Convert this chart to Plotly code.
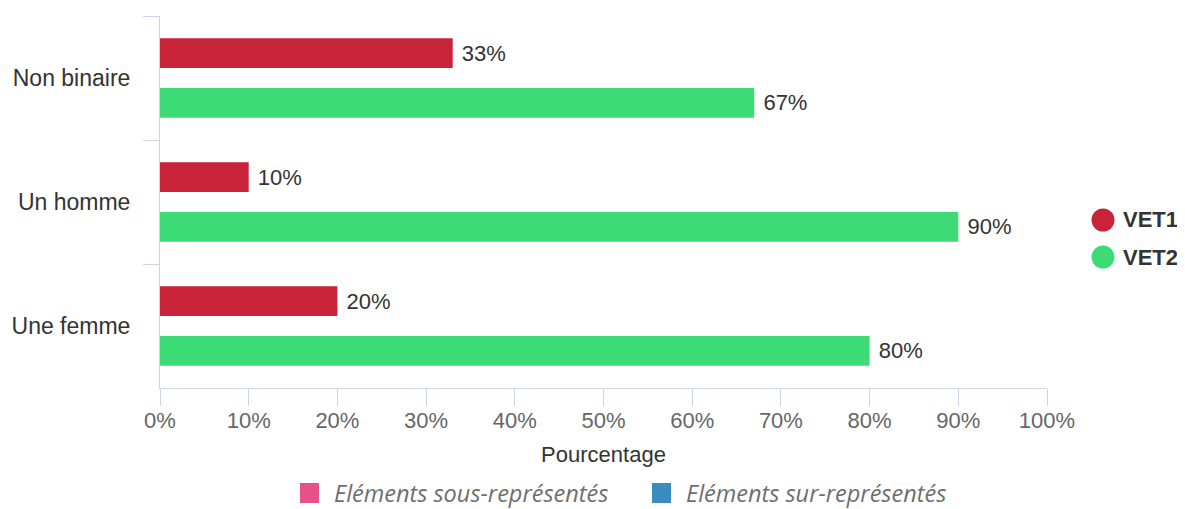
"""Horizontal grouped bars: VET1 vs VET2 by gender."""

import plotly.graph_objects as go

categories = ["Non binaire", "Un homme", "Une femme"]
vet1_values = [33, 10, 20]
vet2_values = [67, 90, 80]
series_names = ["VET1", "VET2"]
series_colors = ["#C9233A", "#3DDB76"]
x_ticks = list(range(0, 101, 10))
x_ticktext = [f"{t}%" for t in x_ticks]
footer_items = ["Eléments sous-représentés", "Eléments sur-représentés"]
footer_colors = ["#E8508A", "#3A8BBE"]

FONT = "Liberation Sans, Arial, sans-serif"
AXIS_COLOR = "#CCD6EB"
FS = 22

# plot area in page pixels (the page body adds an 8px offset)
PX_L, PX_R, PX_T, PX_B = 160, 1047, 16, 388
PW, PH = PX_R - PX_L, PX_B - PX_T


def px_x(px):
    return (px - PX_L) / PW


def px_y(py):
    return (PX_B - py) / PH


fig = go.Figure()

for name, vals, color in zip(series_names, [vet1_values, vet2_values], series_colors):
    fig.add_trace(
        go.Bar(
            x=vals,
            y=categories,
            orientation="h",
            name=name,
            marker={"color": color, "line": {"width": 0}},
            text=[f"\u00a0{v}%" for v in vals],
            textposition="outside",
            textfont={"size": FS, "color": "#333333", "family": FONT},
            cliponaxis=False,
            showlegend=False,
            hoverinfo="x+y",
        )
    )

# Series legend on the right (round markers)
legend_y = [220, 257]
for name, color, py in zip(series_names, series_colors, legend_y):
    fig.add_shape(
        type="circle",
        xref="paper",
        yref="paper",
        xsizemode="pixel",
        ysizemode="pixel",
        xanchor=px_x(1103),
        yanchor=px_y(py),
        x0=-11.5,
        x1=11.5,
        y0=-11.5,
        y1=11.5,
        fillcolor=color,
        line={"width": 0},
    )
    fig.add_annotation(
        xref="paper",
        yref="paper",
        x=px_x(1121),
        y=px_y(py),
        xanchor="left",
        yanchor="middle",
        text=f"<b>{name}</b>",
        showarrow=False,
        font={"size": FS, "color": "#333333", "family": FONT},
    )

# Footer legend (under/over-represented)
footer_x = [300, 652]
for label, color, px in zip(footer_items, footer_colors, footer_x):
    fig.add_shape(
        type="rect",
        xref="paper",
        yref="paper",
        xsizemode="pixel",
        ysizemode="pixel",
        xanchor=px_x(px),
        yanchor=px_y(493),
        x0=0,
        x1=19,
        y0=-10,
        y1=10,
        fillcolor=color,
        line={"width": 0},
    )
    fig.add_annotation(
        xref="paper",
        yref="paper",
        x=px_x(px + 32),
        y=px_y(493),
        xanchor="left",
        yanchor="middle",
        text=f"<i>{label}</i>",
        showarrow=False,
        font={"size": 23.5, "color": "#6E6E6E", "family": "Open Sans, sans-serif"},
    )

fig.update_layout(
    barmode="group",
    bargap=0.2,
    bargroupgap=0.4,
    width=1177,
    height=501,
    paper_bgcolor="white",
    plot_bgcolor="white",
    font={"family": FONT, "color": "#333333"},
    margin={"l": PX_L - 8, "r": 1185 - PX_R, "t": PX_T - 8, "b": 509 - PX_B},
    showlegend=False,
    xaxis={
        "range": [0, 100],
        "tickvals": x_ticks,
        "ticktext": x_ticktext,
        "showgrid": False,
        "zeroline": False,
        "showline": True,
        "linecolor": AXIS_COLOR,
        "linewidth": 1,
        "ticks": "outside",
        "ticklen": 17,
        "tickcolor": AXIS_COLOR,
        "tickfont": {"size": FS, "color": "#666666"},
        "ticklabelstandoff": -4,
        "automargin": False,
        "title": {"text": "Pourcentage", "font": {"size": FS, "color": "#333333"}, "standoff": 14},
    },
    yaxis={
        "autorange": "reversed",
        "showgrid": False,
        "zeroline": False,
        "showline": True,
        "linecolor": AXIS_COLOR,
        "linewidth": 1,
        "ticks": "outside",
        "tickson": "boundaries",
        "ticklen": 16,
        "tickcolor": AXIS_COLOR,
        "tickfont": {"size": 23, "color": "#333333"},
        "ticklabelstandoff": 24,
        "automargin": False,
    },
)

fig.write_html("out.html")
